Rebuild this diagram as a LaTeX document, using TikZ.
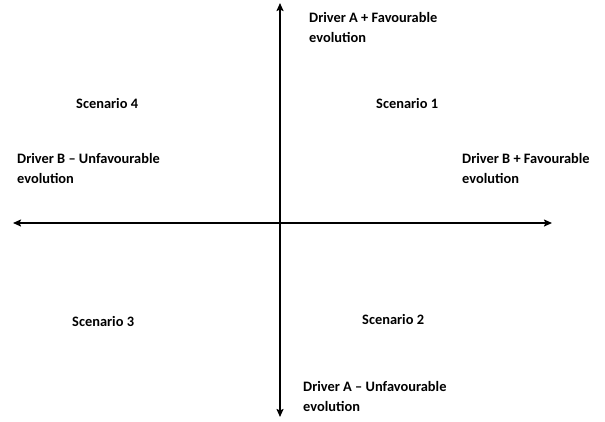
\documentclass[tikz,border=0pt]{standalone}
\usepackage{fontspec}
\setmainfont{Carlito}
\usetikzlibrary{arrows.meta}
\begin{document}
\begin{tikzpicture}[x=1pt,y=-1pt,
  axis/.style={line width=1.8pt,-{Stealth[length=8pt,width=7pt,inset=1.5pt]}},
  lbl/.style={anchor=west,align=left,inner sep=0pt,font=\fontsize{14.4}{20}\selectfont\bfseries}]
\useasboundingbox (0,0) rectangle (605,421);
\coordinate (c) at (280,223);
\coordinate (top) at (280,3);
\coordinate (bot) at (280,417);
\coordinate (lft) at (13,223);
\coordinate (rgt) at (552,223);
\draw[axis] (c) -- (top);
\draw[axis] (c) -- (bot);
\draw[axis] (c) -- (lft);
\draw[axis] (c) -- (rgt);
\node[lbl] (da) at (309,27) {Driver A + Favourable\\evolution};
\node[lbl] (s4) at (76,103) {Scenario 4};
\node[lbl] (s1) at (376,103) {Scenario 1};
\node[lbl] (dbm) at (17,168) {Driver B – Unfavourable\\evolution};
\node[lbl] (dbp) at (462,168) {Driver B + Favourable\\evolution};
\node[lbl] (s3) at (72,321) {Scenario 3};
\node[lbl] (s2) at (362,319) {Scenario 2};
\node[lbl] (dam) at (303,396) {Driver A – Unfavourable\\evolution};
\end{tikzpicture}
\end{document}
